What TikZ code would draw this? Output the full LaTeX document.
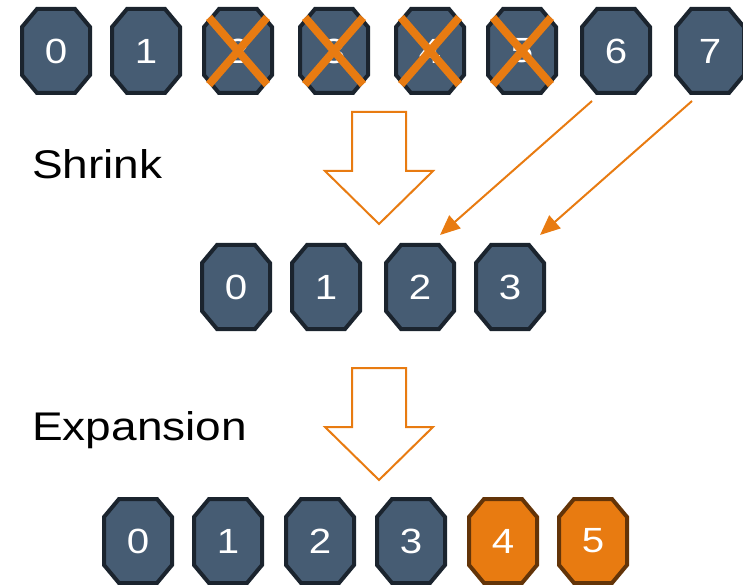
\documentclass[tikz,border=0pt]{standalone}
\usepackage{fontspec}
\setmainfont[FakeStretch=1.15]{Liberation Sans}
\usetikzlibrary{shapes.misc,arrows.meta}

\definecolor{slate}{RGB}{70,92,115}
\definecolor{slateedge}{RGB}{27,36,46}
\definecolor{tangerine}{RGB}{232,123,17}
\definecolor{rust}{RGB}{99,52,8}

\begin{document}
\begin{tikzpicture}[x=1pt,y=1pt,line join=miter,
	octagon/.style 2 args={rectangle,inner sep=0pt,minimum width=72pt,minimum height=88pt,
		text=white,font=\fontsize{35}{35}\selectfont,
		path picture={\filldraw[line width=4pt,draw=#1,fill=#2]
			([shift={(-19,42)}]path picture bounding box.center) -- ++(38,0) -- ++(15,-18)
			-- ++(0,-48) -- ++(-15,-18) -- ++(-38,0) -- ++(-15,18) -- ++(0,48) -- cycle;}},
	slot/.style={octagon={slateedge}{slate}},
	newslot/.style={octagon={rust}{tangerine}},
	gone/.style={cross out,draw=tangerine,line width=8pt,inner sep=0pt,
		minimum width=50pt,minimum height=59pt},
	moved/.style={draw=tangerine,line width=2pt,-{Triangle[length=20pt,width=17pt]}},
	hollow/.style={draw=tangerine,line width=2pt,fill=white},
	step label/.style={anchor=base west,inner sep=0pt,font=\fontsize{40}{40}\selectfont}]
	\useasboundingbox (0,0) rectangle (743,584);
	% old table
	\node[slot] (t0) at (56,533) {0};
	\node[slot] (t1) at (146,533) {1};
	\node[slot] (t2) at (238,533) {2};
	\node[slot] (t3) at (334,533) {3};
	\node[slot] (t4) at (430,533) {4};
	\node[slot] (t5) at (522,533) {5};
	\node[slot] (t6) at (616,533) {6};
	\node[slot] (t7) at (710,533) {7};
	\foreach \k in {2,3,4,5}
		\node[gone] (x\k) at (t\k) {};
	% shrunk table
	\node[slot] (m0) at (236,297) {0};
	\node[slot] (m1) at (326,297) {1};
	\node[slot] (m2) at (420,297) {2};
	\node[slot] (m3) at (510,297) {3};
	% expanded table
	\node[slot] (b0) at (138,43) {0};
	\node[slot] (b1) at (228,43) {1};
	\node[slot] (b2) at (320,43) {2};
	\node[slot] (b3) at (411,43) {3};
	\node[newslot] (b4) at (503,43) {4};
	\node[newslot] (b5) at (593,43) {5};
	% labels
	\node[step label] (shrink) at (32,405) {Shrink};
	\node[step label] (expand) at (32,144) {Expansion};
	% big hollow arrows
	\foreach \dy in {0,-256}
		\draw[hollow] (352,472+\dy) -- (406,472+\dy) -- (406,413+\dy) -- (433,413+\dy)
			-- (379,360+\dy) -- (325,413+\dy) -- (352,413+\dy) -- cycle;
	% remapped entries
	\draw[moved] ([shift={(-24,-50)}]t6.center) -- ([shift={(20,52)}]m2.center);
	\draw[moved] ([shift={(-18,-50)}]t7.center) -- ([shift={(30,52)}]m3.center);
\end{tikzpicture}
\end{document}
